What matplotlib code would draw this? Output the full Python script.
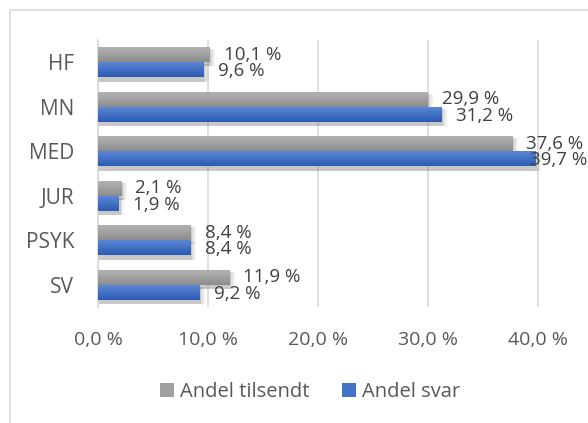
import numpy as np
import matplotlib
matplotlib.use("Agg")
import matplotlib.pyplot as plt
from matplotlib.patches import Rectangle, Patch
from matplotlib.colors import LinearSegmentedColormap

# data (top to bottom as in the chart)
categories = ["HF", "MN", "MED", "JUR", "PSYK", "SV"]
andel_tilsendt = [10.1, 29.9, 37.6, 2.1, 8.4, 11.9]
andel_svar = [9.6, 31.2, 39.7, 1.9, 8.4, 9.2]
series_names = ["Andel tilsendt", "Andel svar"]
xticks = [0, 10, 20, 30, 40]

plt.rcParams['font.family'] = ['Open Sans', 'DejaVu Sans']
text_col = "#595959"


def pct(v):
    return f"{v:.1f} %".replace(".", ",")


fig = plt.figure(figsize=(5.88, 4.23), dpi=100)
ax = fig.add_axes([98 / 588, 1 - 307 / 423, 1 - 98 / 588, (307 - 40) / 423])

# chart border (right and bottom are cut off in the original)
fig.patches.append(Rectangle((9.5 / 588, -0.1), 1.2, 1 - 10 / 423 + 0.1,
                             transform=fig.transFigure, fill=False,
                             edgecolor="#d9d9d9", linewidth=1.2))

n = len(categories)
y = np.arange(n)[::-1].astype(float)
h = 0.34

grey_cmap = LinearSegmentedColormap.from_list("g", ["#b4b4b4", "#a2a2a2", "#8c8c8c"])
blue_cmap = LinearSegmentedColormap.from_list("b", ["#5f8ad8", "#4472c4", "#2d5bb5"])


def draw_bars(vals, ypos, cmap):
    # soft shadow
    for k, a in [(0.5, 0.08), (0.32, 0.12), (0.15, 0.18)]:
        ax.barh(ypos - 0.07, np.array(vals) + k, height=h + 0.05, left=0,
                color="#606060", alpha=a, linewidth=0, zorder=2)
    bars = ax.barh(ypos, vals, height=h, color="none", linewidth=0, zorder=3)
    grad = np.linspace(0, 1, 50).reshape(-1, 1)
    for b in bars:
        x0, y0 = b.get_x(), b.get_y()
        w, hh = b.get_width(), b.get_height()
        im = ax.imshow(grad, cmap=cmap, aspect="auto",
                       extent=(x0, x0 + w, y0, y0 + hh), origin="upper", zorder=3)
        im.set_clip_path(b)
    return bars


draw_bars(andel_tilsendt, y + h / 2, grey_cmap)
draw_bars(andel_svar, y - h / 2, blue_cmap)

ax.set_xlim(0, 44.5)
ax.set_ylim(-0.5, n - 0.5)

# data labels
labels = []
for yy, v in zip(y + h / 2, andel_tilsendt):
    labels.append(ax.text(v + 1.3, yy, pct(v), va="center", ha="left",
                          fontsize=13.5, color="#404040", zorder=5, clip_on=False))
for yy, v in zip(y - h / 2, andel_svar):
    labels.append(ax.text(v + 1.3, yy - 0.03, pct(v), va="center", ha="left",
                          fontsize=13.5, color="#404040", zorder=5, clip_on=False))

# keep labels inside the chart like Excel does
renderer = fig.canvas.get_renderer()
fig_w = fig.bbox.width
for t in labels:
    bb = t.get_window_extent(renderer)
    if bb.x1 > fig_w - 1:
        shift = bb.x1 - (fig_w - 1)
        x_pix = ax.transData.transform(t.get_position())[0] - shift
        t.set_x(ax.transData.inverted().transform((x_pix, 0))[0])

ax.set_yticks(y)
ax.set_yticklabels(categories)
ax.set_xticks(xticks)
ax.set_xticklabels([pct(t) for t in xticks])
ax.tick_params(axis="y", length=0, pad=17, labelsize=15, labelcolor=text_col)
ax.tick_params(axis="x", length=0, pad=17, labelsize=14, labelcolor=text_col)

ax.grid(axis="x", color="#d9d9d9", linewidth=1.2, zorder=0)
ax.set_axisbelow(True)
for s in ["top", "right", "bottom"]:
    ax.spines[s].set_visible(False)
ax.spines["left"].set_color("#d9d9d9")
ax.spines["left"].set_linewidth(1.2)
ax.set_facecolor("none")

handles = [Patch(facecolor="#a0a0a0", edgecolor="none"),
           Patch(facecolor="#4472c4", edgecolor="none")]
fig.legend(handles, series_names, loc="center", bbox_to_anchor=(0.527, 1 - 392 / 423),
           ncol=2, frameon=False, fontsize=14.5, labelcolor=text_col,
           handlelength=0.7, handleheight=0.7, handletextpad=0.3, columnspacing=1.6)

fig.savefig("out.png", dpi=100)
